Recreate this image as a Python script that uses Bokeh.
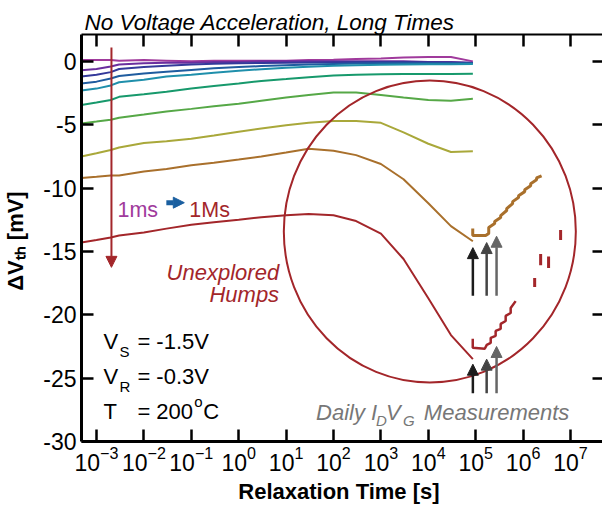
import numpy as np
from bokeh.plotting import figure
from bokeh.models import Range1d, LogAxis, LinearAxis, FixedTicker, Label, Arrow, NormalHead
from bokeh.embed import file_html
from bokeh.resources import INLINE

# ---------------- data ----------------
time_s = [4.8e-4, 1e-3, 2e-3, 3e-3, 1e-2, 3e-2, 0.1, 0.3, 1, 3, 10, 30, 100, 300,
          1e3, 3e3, 1e4, 3e4, 8.7e4]

dvth_1 = [0.1, 0.1, 0.1, 0.05, 0.1, 0.05, 0.0, 0.05, 0.05, 0.05, 0.05, 0.1, 0.12, 0.18, 0.22, 0.3, 0.35, 0.35, 0.0]
dvth_2 = [-0.7, -0.6, -0.4, -0.25, -0.15, -0.1, -0.1, -0.05, -0.05, 0.0, 0.0, 0.0, 0.0, 0.0, 0.0, 0.0, -0.05, -0.05, -0.1]
dvth_3 = [-1.2, -1.05, -0.85, -0.6, -0.45, -0.35, -0.25, -0.18, -0.14, -0.12, -0.1, -0.08, -0.07, -0.06, -0.06, -0.06, -0.07, -0.08, -0.12]
dvth_4 = [-1.75, -1.6, -1.35, -1.15, -0.95, -0.82, -0.68, -0.55, -0.45, -0.37, -0.3, -0.24, -0.2, -0.17, -0.15, -0.14, -0.14, -0.15, -0.15]
dvth_5 = [-2.3, -2.15, -1.9, -1.65, -1.45, -1.2, -1.05, -0.9, -0.75, -0.62, -0.5, -0.42, -0.35, -0.3, -0.26, -0.24, -0.22, -0.22, -0.2]
dvth_6 = [-3.45, -3.25, -3.05, -2.8, -2.6, -2.4, -2.15, -1.95, -1.75, -1.55, -1.4, -1.25, -1.12, -1.05, -1.02, -1.0, -1.0, -1.0, -0.98]
dvth_7 = [-4.9, -4.75, -4.6, -4.45, -4.2, -3.95, -3.75, -3.55, -3.35, -3.1, -2.85, -2.65, -2.45, -2.45, -2.65, -2.85, -3.05, -3.1, -2.95]
dvth_8 = [-7.5, -7.25, -7.0, -6.8, -6.45, -6.3, -6.1, -5.85, -5.55, -5.3, -5.05, -4.85, -4.7, -4.7, -4.85, -5.6, -6.5, -7.15, -7.1]
dvth_9 = [-9.2, -9.1, -9.0, -9.0, -8.7, -8.5, -8.2, -8.0, -7.75, -7.5, -7.2, -6.9, -7.05, -7.4, -8.1, -9.3, -11.2, -13.0, -14.2]
dvth_10 = [-14.3, -14.1, -13.9, -13.75, -13.5, -13.2, -12.9, -12.7, -12.5, -12.3, -12.15, -12.05, -12.15, -12.6, -13.6, -15.6, -18.7, -21.6, -23.5]

curves = [dvth_1, dvth_2, dvth_3, dvth_4, dvth_5, dvth_6, dvth_7, dvth_8, dvth_9, dvth_10]
curve_colors = ["#a03a9c", "#6a2e9e", "#34399a", "#1f5c9f", "#1f8fab", "#17996c",
                "#56a847", "#a9a83a", "#a9702c", "#a3262a"]

# daily I_D V_G measurements (brown = curve 9, red = curve 10)
meas_brown_t = [8.65e4, 8.65e4, 1.47e5, 1.62e5, 1.88e5, 1.88e5, 2.51e5, 2.51e5, 3.36e5, 3.36e5,
                4.5e5, 4.5e5, 6.0e5, 6.0e5, 8.0e5, 8.0e5, 1.08e6, 1.08e6, 1.44e6, 1.44e6,
                1.92e6, 1.92e6, 2.45e6]
meas_brown_v = [-13.19, -13.74, -13.74, -13.74, -13.58, -13.11, -12.79, -12.64, -12.32, -12.17,
                -11.77, -11.62, -11.22, -11.07, -10.75, -10.6, -10.28, -10.13, -9.81, -9.65,
                -9.34, -9.2, -9.03]
meas_red_t = [8.65e4, 8.65e4, 1.55e5, 1.71e5, 2.07e5, 2.07e5, 2.63e5, 2.63e5, 3.36e5, 3.36e5,
              4.28e5, 4.28e5, 5.46e5, 5.46e5, 6.95e5]
meas_red_v = [-21.9, -22.6, -22.68, -22.37, -22.21, -21.82, -21.66, -21.27, -21.11, -20.72,
              -20.49, -20.09, -19.86, -19.47, -18.92]
late_red_t = [1.75e6, 2.34e6, 3.44e6, 6.17e6]
late_red_top = [-17.1, -15.2, -15.4, -13.3]
late_red_bot = [-17.8, -16.1, -16.3, -14.1]

# daily measurement arrows: times and tip levels
arrow_t = [8.7e4, 1.7e5, 2.75e5]
arrow_colors = ["#1c1c1c", "#444444", "#666666"]
arrow_tip_upper = [-14.7, -14.3, -13.8]
arrow_tail_upper = -18.5
arrow_tip_lower = [-23.9, -23.5, -22.5]
arrow_tail_lower = -26.2

x_ticks = [1e-3, 1e-2, 1e-1, 1e0, 1e1, 1e2, 1e3, 1e4, 1e5, 1e6, 1e7]
y_ticks = [-30, -25, -20, -15, -10, -5, 0]
y_tick_labels = ["-30", "-25", "-20", "-15", "-10", "-5", "0"]

RED = "#a3262a"
FONT = "Liberation Sans"

# layout helpers (page pixel -> data), used only to place annotation texts
def tx(px):
    return 10 ** (-3 + (px - 95.0) / 47.5)

def vy(py):
    return -(py - 61.0) / 12.733

p = figure(width=602, height=506, x_axis_type="log",
           x_range=Range1d(10 ** -3.316, 10 ** 7.674), y_range=Range1d(-30, 2.12),
           min_border_left=80, min_border_right=0, min_border_top=34, min_border_bottom=63,
           output_backend="svg", toolbar_location=None, outline_line_color=None,
           background_fill_color="white", border_fill_color="white")
p.xgrid.visible = False
p.ygrid.visible = False

p.title.text = "No Voltage Acceleration, Long Times"
p.title.text_font = FONT
p.title.text_font_size = "22.5px"
p.title.text_font_style = "italic"
p.title.text_color = "black"
p.title.align = "left"
p.title.offset = 3
p.title.standoff = 0

xa = p.below[0]
xa.ticker = FixedTicker(ticks=x_ticks)
xa.major_label_text_font = FONT
xa.major_label_text_font_size = "23px"
xa.major_label_text_color = "black"
xa.major_label_standoff = 4
xa.axis_line_width = 3
xa.major_tick_line_width = 2.5
xa.major_tick_in = 12
xa.major_tick_out = 0
xa.minor_tick_line_color = None
xa.axis_label = "Relaxation Time  [s]"
xa.axis_label_text_font = FONT
xa.axis_label_text_font_size = "22px"
xa.axis_label_text_font_style = "bold"
xa.axis_label_text_color = "black"
xa.axis_label_standoff = 5

ya = p.left[0]
ya.ticker = FixedTicker(ticks=y_ticks)
ya.major_label_overrides = dict(zip(y_ticks, y_tick_labels))
ya.major_label_text_font = FONT
ya.major_label_text_font_size = "23px"
ya.major_label_text_color = "black"
ya.major_label_standoff = 5
ya.axis_line_width = 3
ya.major_tick_line_width = 2.5
ya.major_tick_in = 12
ya.major_tick_out = 0
ya.minor_tick_line_color = None
ya.axis_label = "\u0394V\u209c\u2095  [mV]"
ya.axis_label_text_font = FONT
ya.axis_label_text_font_size = "22px"
ya.axis_label_text_font_style = "bold"
ya.axis_label_text_color = "black"
ya.axis_label_standoff = 12

top = LogAxis(ticker=FixedTicker(ticks=x_ticks), major_label_text_font_size="1px",
              major_label_overrides={t: "" for t in x_ticks},
              major_label_standoff=0, axis_line_width=2, major_tick_line_width=2.5,
              major_tick_in=12, major_tick_out=0, minor_tick_line_color=None)
p.add_layout(top, "above")
right = LinearAxis(ticker=FixedTicker(ticks=y_ticks), major_label_text_font_size="1px",
                   major_label_overrides={t: "" for t in y_ticks},
                   major_label_standoff=0, axis_line_color=None, major_tick_line_width=2.5,
                   major_tick_in=10, major_tick_out=0, minor_tick_line_color=None)
p.add_layout(right, "right")

# relaxation curves
for vals, col in zip(curves, curve_colors):
    p.line(time_s, vals, line_color=col, line_width=2)

# daily measurement data
p.line(meas_brown_t, meas_brown_v, line_color="#a9702c", line_width=3)
p.line(meas_red_t, meas_red_v, line_color=RED, line_width=2.5)
p.segment(x0=late_red_t, y0=late_red_top, x1=late_red_t, y1=late_red_bot,
          line_color=RED, line_width=3)

# "unexplored humps" ellipse
p.ellipse(x=[tx(429)], y=[vy(232)], width=292, height=302, width_units="screen",
          height_units="screen", fill_color=None, line_color=RED, line_width=2)

# measurement arrows
for t, c, tip_u, tip_l in zip(arrow_t, arrow_colors, arrow_tip_upper, arrow_tip_lower):
    for tip, tail in ((tip_u, arrow_tail_upper), (tip_l, arrow_tail_lower)):
        p.add_layout(Arrow(end=NormalHead(size=11, fill_color=c, line_color=c),
                           x_start=t, y_start=tail, x_end=t, y_end=tip,
                           line_color=c, line_width=2.5))

# 1ms -> 1Ms vertical arrow
p.add_layout(Arrow(end=NormalHead(size=11, fill_color=RED, line_color=RED),
                   x_start=tx(110), y_start=vy(47), x_end=tx(110), y_end=vy(268),
                   line_color=RED, line_width=2))
p.add_layout(Arrow(end=NormalHead(size=11, fill_color="#1a5fa0", line_color="#1a5fa0"),
                   x_start=tx(165), y_start=vy(203), x_end=tx(183), y_end=vy(203),
                   line_color="#1a5fa0", line_width=5))


def lab(px, py, text, size="22px", color="black", style="normal", align="left", angle=0.0):
    p.add_layout(Label(x=tx(px), y=vy(py), text=text, text_font=FONT, text_font_size=size,
                       text_color=color, text_font_style=style, text_align=align,
                       text_baseline="alphabetic", angle=angle))

lab(116, 210, "1ms", size="21.5px", color="#a03a9c")
lab(188, 210, "1Ms", size="21.5px", color=RED)
lab(278, 273, "Unexplored", color=RED, style="italic", align="right")
lab(278, 295, "Humps", color=RED, style="italic", align="right")

# stress conditions
lab(102, 343, "V")
lab(118, 353, "S", size="15px")
lab(136, 343, "= -1.5V")
lab(102, 378, "V")
lab(118, 388, "R", size="15px")
lab(136, 378, "= -0.3V")
lab(102, 413, "T")
lab(136, 413, "= 200")
lab(193, 403, "o", size="15px")
lab(202, 413, "C")

# daily measurement caption
GRAY = "#777777"
lab(315, 414, "Daily", color=GRAY, style="italic")
lab(370, 414, "I", color=GRAY, style="italic")
lab(375, 422, "D", size="15px", color=GRAY, style="italic")
lab(385, 414, "V", color=GRAY, style="italic")
lab(402, 422, "G", size="15px", color=GRAY, style="italic")
lab(423, 414, "Measurements", color=GRAY, style="italic")

open("out.html", "w").write(file_html(p, INLINE))
